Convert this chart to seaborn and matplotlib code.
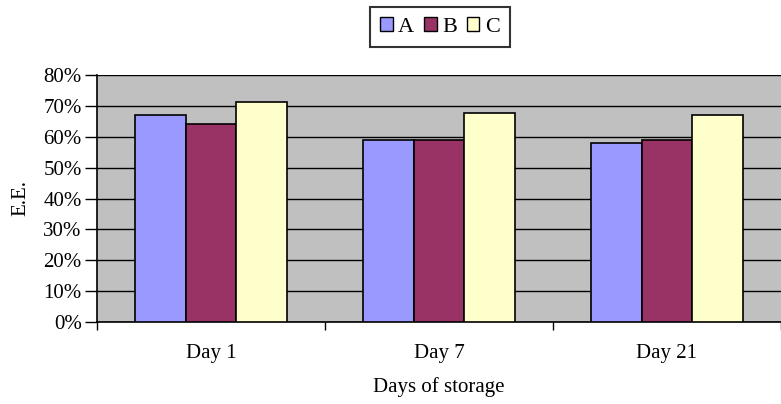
import matplotlib
matplotlib.use("Agg")
import matplotlib.pyplot as plt
import seaborn as sns
import pandas as pd
from matplotlib.patches import Patch
from matplotlib.ticker import PercentFormatter

days = ["Day 1", "Day 7", "Day 21"]
series = ["A", "B", "C"]
values_A = [0.67, 0.59, 0.58]
values_B = [0.64, 0.59, 0.59]
values_C = [0.713, 0.677, 0.67]
colors = ["#9999FF", "#993366", "#FFFFCC"]
yticks = [0, 0.1, 0.2, 0.3, 0.4, 0.5, 0.6, 0.7, 0.8]

rows = []
for s, vals in zip(series, [values_A, values_B, values_C]):
    for d, v in zip(days, vals):
        rows.append({"day": d, "series": s, "value": v})
df = pd.DataFrame(rows)

plt.rcParams["font.family"] = ["Liberation Serif", "DejaVu Serif"]
FS = 15

fig = plt.figure(figsize=(7.81, 4.04), dpi=100)
ax = fig.add_axes([97 / 781, (404 - 322) / 404, 1 - 97 / 781, (322 - 75) / 404])
ax.set_facecolor("#C0C0C0")

sns.barplot(data=df, x="day", y="value", hue="series", order=days, hue_order=series,
            palette=colors, edgecolor="black", linewidth=1.2, width=0.67,
            saturation=1, ax=ax, legend=False, zorder=3)

ax.set_ylim(0, 0.8)
ax.set_xlim(-0.5, 2.474)
ax.set_yticks(yticks)
ax.yaxis.set_major_formatter(PercentFormatter(1.0, decimals=0))
ax.yaxis.grid(True, color="black", linewidth=1.0, zorder=0)
ax.set_axisbelow(True)
ax.tick_params(axis="y", direction="out", length=9, width=1, labelsize=FS, pad=2)
ax.set_xticks([0, 1, 2])
ax.set_xticklabels(days)
ax.tick_params(axis="x", which="major", length=0, labelsize=FS, pad=16)
ax.set_xticks([-0.5, 0.5, 1.5, 2.5], minor=True)
ax.tick_params(axis="x", which="minor", direction="out", length=6, width=1)
for sp in ["top", "right"]:
    ax.spines[sp].set_visible(False)
for sp in ["left", "bottom"]:
    ax.spines[sp].set_color("black")
    ax.spines[sp].set_linewidth(1.2)

ax.set_ylabel("E.E.", fontsize=FS, labelpad=9)
ax.set_xlabel("Days of storage", fontsize=FS, labelpad=10)

handles = [Patch(facecolor=c, edgecolor="black", linewidth=1) for c in colors]
leg = fig.legend(handles, series, loc="center", bbox_to_anchor=(440 / 781, 1 - 27 / 404),
                 ncol=3, frameon=True, fancybox=False, edgecolor="black", fontsize=FS + 1,
                 handlelength=0.55, handleheight=0.55, handletextpad=0.25, columnspacing=0.45,
                 borderpad=0.45)
leg.get_frame().set_linewidth(1.5)

fig.savefig("out.png", dpi=100)
